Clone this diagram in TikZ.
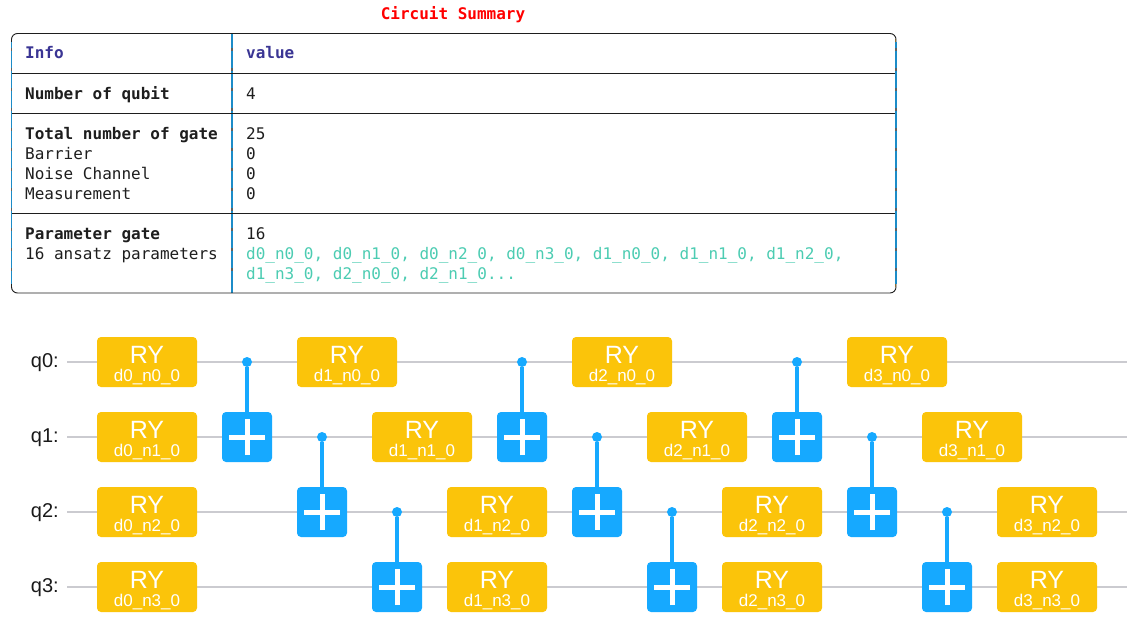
\documentclass[tikz,border=0pt]{standalone}
\usepackage{fontspec}
\setmainfont{Liberation Sans}
\newfontfamily\monof{DejaVu Sans Mono}
\definecolor{gatey}{HTML}{FBC40A}
\definecolor{gateb}{HTML}{16A9FF}
\definecolor{wirec}{HTML}{CBCBD0}
\definecolor{headc}{HTML}{3A3594}
\definecolor{tealc}{HTML}{4CCCB2}
\definecolor{inkc}{HTML}{1E1E1E}
\definecolor{vblue}{HTML}{1C8CC8}
\definecolor{vorange}{HTML}{C8963C}
\newcommand{\rygate}[4]{\node[rybox] (#1) at (#2,#3) {};
  \node[rytop] (#1t) at (#2,#3-7) {RY};
  \node[rysub] (#1s) at (#2,#3+15) {#4};}
\newcommand{\cnotgate}[4]{\node[ctrl] (#1c) at (#2,#3) {};
  \node[targ] (#1t) at (#2,#4) {};
  \draw[link] (#1c) -- (#1t);}
\tikzset{
  rybox/.style={fill=gatey,rounded corners=4pt,minimum width=100pt,minimum height=50pt,inner sep=0pt,draw=none},
  rytop/.style={font=\fontsize{25}{25}\selectfont,text=white,inner sep=0pt},
  rysub/.style={font=\fontsize{17}{17}\selectfont,text=white,inner sep=0pt},
  ctrl/.style={circle,fill=gateb,minimum size=10pt,inner sep=0pt,draw=none},
  targ/.style={fill=gateb,rounded corners=4pt,minimum width=50pt,minimum height=50pt,inner sep=0pt,draw=none,
    path picture={\draw[white,line width=5pt] ([xshift=-18pt]path picture bounding box.center) -- ([xshift=18pt]path picture bounding box.center);
      \draw[white,line width=5pt] ([yshift=-18pt]path picture bounding box.center) -- ([yshift=18pt]path picture bounding box.center);}},
  link/.style={gateb,line width=4pt},
  wire/.style={wirec,line width=2pt},
  qlab/.style={font=\fontsize{20}{20}\selectfont,text=inkc!85!black,anchor=east,inner sep=0pt},
  cell/.style={font=\monof\fontsize{16}{16}\selectfont,text=inkc,anchor=base west,inner sep=0pt},
  cellb/.style={cell,font=\monof\bfseries\fontsize{16}{16}\selectfont},
  cellh/.style={cellb,text=headc},
  cellt/.style={cell,text=tealc},
  hrule/.style={inkc,line width=0.9pt},
  vrule/.style={vblue,line width=1.2pt},
  vedge/.style={vorange,line width=0.6pt},
  tick/.style={inkc!70,line width=1.3pt,dash pattern=on 3pt off 17pt,dash phase=-8pt},
}
\begin{document}
\begin{tikzpicture}[x=1pt,y=-1pt]
\useasboundingbox (0,0) rectangle (1134,618);
\fill[white] (0,0) rectangle (1134,618);
% table
\node[font=\monof\bfseries\fontsize{16}{16}\selectfont,text=red,inner sep=0pt] (title) at (453,14.5) {Circuit Summary};
\draw[vedge] (10.8,39) -- (10.8,287);
\draw[vedge] (895.3,39) -- (895.3,287);
\draw[vedge] (231.2,33) -- (231.2,293);
\draw[vrule] (232,33) -- (232,293);
\draw[hrule] (11,73) -- (896,73);
\draw[hrule] (11,113) -- (896,113);
\draw[hrule] (11,213) -- (896,213);
\draw[hrule,rounded corners=6pt] (11.5,42) -- (11.5,33.5) -- (896,33.5) -- (896,42);
\draw[hrule,rounded corners=6pt] (11.5,284) -- (11.5,293) -- (896,293) -- (896,284);
\draw[vrule] (11.5,42) -- (11.5,284);
\draw[vrule] (896,42) -- (896,284);
\draw[tick] (11.5,40) -- (11.5,286);
\draw[tick] (232,40) -- (232,286);
\draw[tick] (896,40) -- (896,286);
\node[cellh] (i1) at (25,59) {Info};
\node[cellh] (v1) at (246,59) {value};
\node[cellb] (i2) at (25,99) {Number of qubit};
\node[cell] (v2) at (246,99) {4};
\node[cellb] (i3) at (25,139) {Total number of gate};
\node[cell] (v3) at (246,139) {25};
\node[cell] (i4) at (25,159) {Barrier};
\node[cell] (v4) at (246,159) {0};
\node[cell] (i5) at (25,179) {Noise Channel};
\node[cell] (v5) at (246,179) {0};
\node[cell] (i6) at (25,199) {Measurement};
\node[cell] (v6) at (246,199) {0};
\node[cellb] (i7) at (25,239) {Parameter gate};
\node[cell] (v7) at (246,239) {16};
\node[cell] (i8) at (25,259) {16 ansatz parameters};
\node[cellt] (v8) at (246,259) {d0\_n0\_0, d0\_n1\_0, d0\_n2\_0, d0\_n3\_0, d1\_n0\_0, d1\_n1\_0, d1\_n2\_0,};
\node[cellt] (v9) at (246,279) {d1\_n3\_0, d2\_n0\_0, d2\_n1\_0...};
% wires
\foreach \n/\y in {0/362,1/437,2/512,3/587}{
  \node[qlab] (q\n) at (59,\y+0.5) {q\n:};
  \coordinate (ws\n) at (67,\y);
  \coordinate (we\n) at (1127,\y);
  \draw[wire] (ws\n) -- (we\n);
}
% RY gates
\rygate{a0}{147}{362}{d0\_n0\_0}
\rygate{a1}{147}{437}{d0\_n1\_0}
\rygate{a2}{147}{512}{d0\_n2\_0}
\rygate{a3}{147}{587}{d0\_n3\_0}
\rygate{b0}{347}{362}{d1\_n0\_0}
\rygate{b1}{422}{437}{d1\_n1\_0}
\rygate{b2}{497}{512}{d1\_n2\_0}
\rygate{b3}{497}{587}{d1\_n3\_0}
\rygate{c0}{622}{362}{d2\_n0\_0}
\rygate{c1}{697}{437}{d2\_n1\_0}
\rygate{c2}{772}{512}{d2\_n2\_0}
\rygate{c3}{772}{587}{d2\_n3\_0}
\rygate{d0}{897}{362}{d3\_n0\_0}
\rygate{d1}{972}{437}{d3\_n1\_0}
\rygate{d2}{1047}{512}{d3\_n2\_0}
\rygate{d3}{1047}{587}{d3\_n3\_0}
% CNOTs
\cnotgate{x1}{247}{362}{437}
\cnotgate{x2}{322}{437}{512}
\cnotgate{x3}{397}{512}{587}
\cnotgate{x4}{522}{362}{437}
\cnotgate{x5}{597}{437}{512}
\cnotgate{x6}{672}{512}{587}
\cnotgate{x7}{797}{362}{437}
\cnotgate{x8}{872}{437}{512}
\cnotgate{x9}{947}{512}{587}
\end{tikzpicture}
\end{document}
